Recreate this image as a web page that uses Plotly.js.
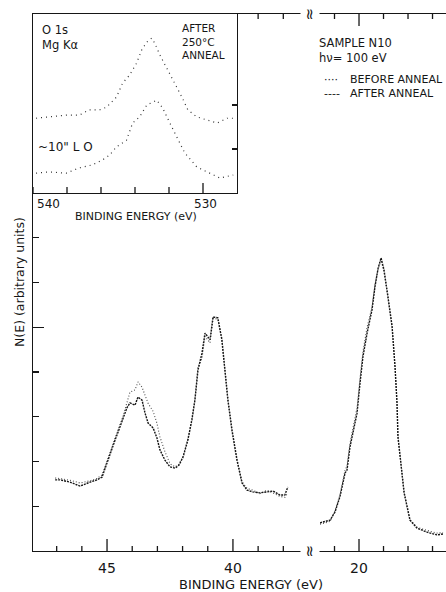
<!DOCTYPE html>
<html><head><meta charset="utf-8">
<script src="https://cdn.plot.ly/plotly-3.0.1.min.js"></script>
<style>html,body{margin:0;padding:0;background:#fff}#chart{width:446px;height:592px}</style>
</head><body><div id="chart"></div>
<script>
// ---- Main spectrum, shallow core-level region (binding energy, eV) ----
const coreEnergy = [47.06,46.87,46.47,46.07,45.67,45.40,45.20,45.08,44.88,44.68,44.56,44.37,44.21,44.09,43.89,43.77,43.61,43.49,43.37,43.17,43.02,42.90,42.70,42.50,42.30,42.14,41.98,41.79,41.63,41.51,41.39,41.23,41.11,40.91,40.79,40.60,40.44,40.32,40.20,40.04,39.84,39.64,39.44,39.21,38.93,38.65,38.41,38.13,37.94,37.82];
const coreAfter  = [1.59,1.59,1.54,1.45,1.54,1.59,1.65,1.85,2.19,2.48,2.66,2.93,3.20,3.31,3.26,3.44,3.37,3.08,2.86,2.75,2.53,2.26,2.03,1.88,1.85,1.92,2.10,2.48,2.93,3.37,4.04,4.42,4.87,4.72,5.23,5.21,4.72,4.04,3.37,2.70,2.03,1.52,1.36,1.32,1.30,1.32,1.34,1.25,1.25,1.43];
const coreBefore = [1.63,1.62,1.58,1.52,1.57,1.62,1.70,1.90,2.22,2.52,2.72,3.00,3.35,3.55,3.60,3.78,3.66,3.50,3.30,3.12,2.86,2.55,2.22,1.95,1.88,1.94,2.12,2.50,2.95,3.40,4.10,4.30,4.80,4.65,5.20,5.18,4.75,4.08,3.40,2.74,2.06,1.55,1.40,1.36,1.28,1.36,1.30,1.22,1.20,1.30];
// ---- Main spectrum, valence-band region ----
const valEnergy = [21.59,21.18,20.98,20.78,20.57,20.49,20.37,20.08,19.96,19.84,19.67,19.47,19.35,19.22,19.10,18.98,18.82,18.65,18.53,18.45,18.41,18.24,18.16,17.92,17.63,17.22,16.82,16.57];
const valAfter  = [0.63,0.69,0.87,1.21,1.74,1.81,2.32,3.08,3.75,4.34,4.87,5.39,5.90,6.32,6.55,6.28,5.68,5.01,4.11,3.31,2.55,1.74,1.30,0.69,0.51,0.42,0.36,0.38];
const valBefore = [0.60,0.66,0.90,1.25,1.80,1.90,2.40,3.20,3.85,4.45,5.00,5.45,5.95,6.30,6.50,6.25,5.70,5.05,4.15,3.35,2.55,1.78,1.32,0.70,0.53,0.46,0.40,0.41];
// ---- Inset: O 1s (Mg Ka) ----
const o1sEnergyAnneal = [539.82,539.05,538.05,537.28,536.69,536.09,535.68,535.09,534.73,534.32,533.91,533.61,533.31,533.02,532.84,532.54,532.13,531.83,531.54,531.24,530.89,530.36,529.76,529.17,528.58,528.22];
const o1sAnneal       = [1.70,1.73,1.77,1.77,1.89,1.89,1.95,2.18,2.50,2.68,2.95,3.25,3.43,3.52,3.41,3.14,2.84,2.61,2.39,2.18,1.89,1.73,1.66,1.59,1.70,1.70];
const o1sEnergyExpo = [539.82,539.05,538.05,537.28,536.51,535.92,535.50,535.09,534.50,534.14,533.73,533.31,532.72,532.37,531.95,531.54,531.07,530.36,529.59,529.00,528.22];
const o1sExpo       = [0.45,0.48,0.45,0.57,0.64,0.75,0.86,1.05,1.20,1.59,1.73,2.00,2.11,1.93,1.59,1.27,0.91,0.59,0.45,0.34,0.41];
// ticks and tick labels
const coreMajor = [45, 40];
const coreMinor = [47, 46, 44, 43, 42, 41, 39, 38, 37];
const coreTopTicks = [39, 38];
const valMajor = [20];
const valMinor = [21, 19, 18, 17];
const insetMajor = [530];
const insetMinor = [540, 538, 536, 534, 532];
const insetTickLabels = [540, 530];
const yMajorTicks = [5];
const yMinorTicks = [1, 2, 3, 4, 6, 7];

const W = 446, H = 592, L = 33, R = 0, T = 14, B = 41;
const PW = W - L - R, PH = H - T - B;
const px = x => (x - L) / PW;
const py = y => (H - B - y) / PH;
const brk = px(310);
const INK = '#161616';
const FONT = 'DejaVu Sans, sans-serif';

const traces = [
  {x: coreEnergy, y: coreBefore, xaxis: 'x', yaxis: 'y', mode: 'lines', name: 'BEFORE ANNEAL',
   line: {color: '#4a4a4a', width: 1.1, dash: '1px,2px'}},
  {x: coreEnergy, y: coreAfter, xaxis: 'x', yaxis: 'y', mode: 'lines', name: 'AFTER ANNEAL',
   line: {color: INK, width: 1.4, dash: '2px,1px'}},
  {x: valEnergy, y: valBefore, xaxis: 'x2', yaxis: 'y', mode: 'lines', name: 'BEFORE ANNEAL',
   line: {color: '#4a4a4a', width: 1.1, dash: '1px,2px'}},
  {x: valEnergy, y: valAfter, xaxis: 'x2', yaxis: 'y', mode: 'lines', name: 'AFTER ANNEAL',
   line: {color: INK, width: 1.4, dash: '2px,1px'}},
  {x: o1sEnergyAnneal, y: o1sAnneal, xaxis: 'x3', yaxis: 'y3', mode: 'lines', name: 'AFTER 250°C ANNEAL',
   line: {color: '#333', width: 1.2, dash: '1px,4px'}},
  {x: o1sEnergyExpo, y: o1sExpo, xaxis: 'x3', yaxis: 'y3', mode: 'lines', name: '~10" L O',
   line: {color: '#333', width: 1.2, dash: '1px,4px'}}
];

const axisBase = {showline: true, linecolor: INK, linewidth: 1.3, tickcolor: INK,
  tickwidth: 1.2, showgrid: false, zeroline: false, fixedrange: true};

const layout = {
  width: W, height: H, margin: {l: L, r: R, t: T, b: B},
  paper_bgcolor: '#fff', plot_bgcolor: '#fff', showlegend: false,
  font: {family: FONT, color: INK, size: 12},
  // broken main x axis: core-level segment (tick marks drawn as axis-referenced shapes below)
  xaxis: Object.assign({}, axisBase, {domain: [0, brk], range: [47.94, 36.94], anchor: 'y', mirror: true,
    ticks: '', tickmode: 'array', tickvals: coreMajor, tickfont: {size: 14, family: FONT}, ticklabelstandoff: 4}),
  // valence-band segment
  xaxis2: Object.assign({}, axisBase, {domain: [brk, 1], range: [22, 16.45], anchor: 'y', mirror: true,
    ticks: '', tickmode: 'array', tickvals: valMajor, tickfont: {size: 14, family: FONT}, ticklabelstandoff: 4}),
  yaxis: Object.assign({}, axisBase, {domain: [0, 1], range: [0, 12], anchor: 'x', mirror: false,
    ticks: 'inside', tickmode: 'array', tickvals: yMajorTicks, ticklen: 11, showticklabels: false,
    minor: {tickmode: 'array', tickvals: yMinorTicks, ticklen: 6, ticks: 'inside', tickcolor: INK, tickwidth: 1.2, showgrid: false}}),
  // inset
  xaxis3: Object.assign({}, axisBase, {domain: [0, px(237)], range: [540, 528], anchor: 'y3', mirror: true,
    ticks: '', showticklabels: false}),
  yaxis3: Object.assign({}, axisBase, {domain: [py(193), 1], range: [0, 4.07], anchor: 'x3', side: 'right', mirror: true,
    ticks: 'inside', tickmode: 'array', tickvals: [1, 2], ticklen: 5, showticklabels: false}),
  shapes: [],
  annotations: []
};

// tick marks on the energy axes, placed through each axis' own scale
function tickMarks(vals, xref, base, lenPx, dir) {
  vals.forEach(v => layout.shapes.push({type: 'line', xref: xref, yref: 'paper', x0: v, x1: v,
    y0: base, y1: base + dir * lenPx / PH, line: {color: INK, width: 1.3}, layer: 'above'}));
}
tickMarks(coreMajor, 'x', 0, 12, 1);
tickMarks(coreMinor, 'x', 0, 5, 1);
tickMarks(coreTopTicks, 'x', 1, 5, -1);
tickMarks(valMajor, 'x2', 0, 12, 1);
tickMarks(valMinor, 'x2', 0, 5, 1);
tickMarks(valMajor, 'x2', 1, 12, -1);
tickMarks(valMinor, 'x2', 1, 5, -1);
tickMarks(insetMajor, 'x3', py(193), 10, 1);
tickMarks(insetMinor, 'x3', py(193), 6, 1);

function note(text, x, y, opts) {
  layout.annotations.push(Object.assign({text: text, x: px(x), y: py(y), xref: 'paper', yref: 'paper',
    xanchor: 'left', yanchor: 'middle', align: 'left', showarrow: false, font: {family: FONT, size: 12, color: INK}}, opts || {}));
}
// axis titles
note('BINDING ENERGY (eV)', 251, 584, {xanchor: 'center', font: {family: FONT, size: 13, color: INK}});
note('N(E) (arbitrary units)', 19, 282, {xanchor: 'center', textangle: -90, font: {family: FONT, size: 12.5, color: INK}});
// axis break marks
note('≈', 310, 551, {xanchor: 'center', textangle: 90, bgcolor: '#fff', borderpad: 0, font: {family: FONT, size: 15, color: INK}});
note('≈', 310, 14, {xanchor: 'center', textangle: 90, bgcolor: '#fff', borderpad: 0, font: {family: FONT, size: 15, color: INK}});
// inset axis labels
note(String(insetTickLabels[0]), 35, 204, {font: {family: FONT, size: 12, color: INK}});
note(String(insetTickLabels[1]), 205, 204, {xanchor: 'center', font: {family: FONT, size: 12, color: INK}});
note('BINDING ENERGY (eV)', 136, 216, {xanchor: 'center', font: {family: FONT, size: 11, color: INK}});
// inset labels
note('O 1s<br>Mg Kα', 40, 37.5, {font: {family: FONT, size: 11.5, color: INK}});
note('AFTER<br>250°C<br>ANNEAL', 180, 42, {font: {family: FONT, size: 10.5, color: INK}});
note('~10" L O', 36, 147);
// sample info + key
note('SAMPLE N10<br>hν= 100 eV', 317, 50, {font: {family: FONT, size: 11.5, color: INK}});
note('····', 322, 79, {font: {family: FONT, size: 11, color: INK}});
note('BEFORE ANNEAL', 348, 79, {font: {family: FONT, size: 11, color: INK}});
note('----', 322, 93, {font: {family: FONT, size: 11, color: INK}});
note('AFTER ANNEAL', 348, 93, {font: {family: FONT, size: 11, color: INK}});

Plotly.newPlot('chart', traces, layout, {staticPlot: true, displayModeBar: false});
</script></body></html>
